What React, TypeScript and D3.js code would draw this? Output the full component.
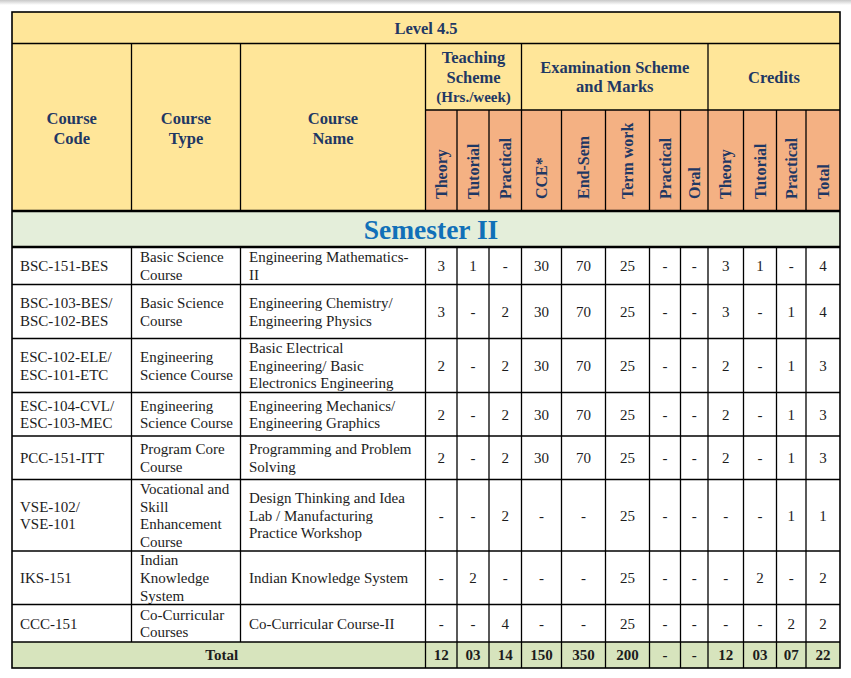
import React, { useEffect, useRef } from 'react';
import * as d3 from 'd3';

// ---- table content ----
const levelTitle = 'Level 4.5';
const semesterTitle = 'Semester II';
const fixedHeaders = [['Course', 'Code'], ['Course', 'Type'], ['Course', 'Name']];
const groupHeaders = [
  { lines: ['Teaching', 'Scheme', '(Hrs./week)'], from: 0, to: 3 },
  { lines: ['Examination Scheme', 'and Marks'], from: 3, to: 8 },
  { lines: ['Credits'], from: 8, to: 12 }
];
const subHeaders = ['Theory', 'Tutorial', 'Practical', 'CCE*', 'End-Sem', 'Term work', 'Practical', 'Oral', 'Theory', 'Tutorial', 'Practical', 'Total'];

const courseCodes = [['BSC-151-BES'], ['BSC-103-BES/', 'BSC-102-BES'], ['ESC-102-ELE/', 'ESC-101-ETC'], ['ESC-104-CVL/', 'ESC-103-MEC'], ['PCC-151-ITT'], ['VSE-102/', 'VSE-101'], ['IKS-151'], ['CCC-151']];
const courseTypes = [['Basic Science', 'Course'], ['Basic Science', 'Course'], ['Engineering', 'Science Course'], ['Engineering', 'Science Course'], ['Program Core', 'Course'], ['Vocational and', 'Skill', 'Enhancement', 'Course'], ['Indian', 'Knowledge', 'System'], ['Co-Curricular', 'Courses']];
const courseNames = [['Engineering Mathematics-', 'II'], ['Engineering Chemistry/', 'Engineering Physics'], ['Basic Electrical', 'Engineering/ Basic', 'Electronics Engineering'], ['Engineering Mechanics/', 'Engineering Graphics'], ['Programming and Problem', 'Solving'], ['Design Thinking and Idea', 'Lab / Manufacturing', 'Practice Workshop'], ['Indian Knowledge System'], ['Co-Curricular Course-II']];

const teachTheory = ['3', '3', '2', '2', '2', '-', '-', '-'];
const teachTutorial = ['1', '-', '-', '-', '-', '-', '2', '-'];
const teachPractical = ['-', '2', '2', '2', '2', '2', '-', '4'];
const cce = ['30', '30', '30', '30', '30', '-', '-', '-'];
const endSem = ['70', '70', '70', '70', '70', '-', '-', '-'];
const termWork = ['25', '25', '25', '25', '25', '25', '25', '25'];
const examPractical = ['-', '-', '-', '-', '-', '-', '-', '-'];
const oral = ['-', '-', '-', '-', '-', '-', '-', '-'];
const credTheory = ['3', '3', '2', '2', '2', '-', '-', '-'];
const credTutorial = ['1', '-', '-', '-', '-', '-', '2', '-'];
const credPractical = ['-', '1', '1', '1', '1', '1', '-', '2'];
const credTotal = ['4', '4', '3', '3', '3', '1', '2', '2'];
const totals = ['12', '03', '14', '150', '350', '200', '-', '-', '12', '03', '07', '22'];

const numericColumns = [teachTheory, teachTutorial, teachPractical, cce, endSem, termWork, examPractical, oral, credTheory, credTutorial, credPractical, credTotal];

// ---- layout ----
const colEdges = [12, 131.5, 240.5, 425.5, 457, 489, 521.5, 561.5, 605.5, 649.5, 680.5, 708, 743.5, 776.5, 806, 840];
const headTop = 12, levelBottom = 43.5, groupBottom = 110, headBottom = 211, semBottom = 247;
const rowEdges = [247, 284.5, 338.5, 392.5, 436, 479.5, 551, 604.5, 642];
const tableBottom = 668;

const YELLOW = '#FFE699';
const SALMON = '#F4B183';
const SEM_GREEN = '#E4EEDA';
const TOTAL_GREEN = '#D7E4BD';
const NAVY = '#1F3864';
const SERIF = '"Liberation Serif", "Times New Roman", serif';

const App = () => {
  const svgRef = useRef<SVGSVGElement>(null);

  useEffect(() => {
    const svg = d3.select(svgRef.current);
    svg.selectAll('*').remove();

    const left = colEdges[0], right = colEdges[colEdges.length - 1];
    const numEdges = colEdges.slice(3);
    const lineH = 17.7;

    // top page shadow
    const grad = svg.append('defs').append('linearGradient')
      .attr('id', 'shadow').attr('x1', 0).attr('y1', 0).attr('x2', 0).attr('y2', 1);
    grad.append('stop').attr('offset', 0).attr('stop-color', '#c8c8c8');
    grad.append('stop').attr('offset', 1).attr('stop-color', '#ffffff');
    svg.append('rect').attr('x', 0).attr('y', 0).attr('width', 851).attr('height', 5).attr('fill', 'url(#shadow)');

    // backgrounds
    svg.append('rect').attr('x', left).attr('y', headTop).attr('width', right - left).attr('height', groupBottom - headTop).attr('fill', YELLOW);
    svg.append('rect').attr('x', left).attr('y', groupBottom).attr('width', colEdges[3] - left).attr('height', headBottom - groupBottom).attr('fill', YELLOW);
    svg.append('rect').attr('x', colEdges[3]).attr('y', groupBottom).attr('width', right - colEdges[3]).attr('height', headBottom - groupBottom).attr('fill', SALMON);
    svg.append('rect').attr('x', left).attr('y', headBottom).attr('width', right - left).attr('height', semBottom - headBottom).attr('fill', SEM_GREEN);
    const lastRow = rowEdges[rowEdges.length - 1];
    svg.append('rect').attr('x', left).attr('y', lastRow).attr('width', right - left).attr('height', tableBottom - lastRow).attr('fill', TOTAL_GREEN);

    const g = svg.append('g').attr('font-family', SERIF);

    const multi = (x: number, cy: number, lines: string[], opts: any) => {
      const t = g.append('text')
        .attr('x', x)
        .attr('text-anchor', opts.anchor || 'middle')
        .attr('font-size', opts.size)
        .attr('font-weight', opts.weight || 'normal')
        .attr('fill', opts.color);
      lines.forEach((ln, i) => {
        t.append('tspan')
          .attr('x', x)
          .attr('y', cy + (i - (lines.length - 1) / 2) * opts.lh)
          .attr('dy', '0.35em')
          .text(ln);
      });
    };

    // header texts
    multi((left + right) / 2, (headTop + levelBottom) / 2, [levelTitle], { size: 16.5, weight: 'bold', color: NAVY, lh: 20 });
    fixedHeaders.forEach((lines, i) => {
      multi((colEdges[i] + colEdges[i + 1]) / 2, 128, lines, { size: 16.5, weight: 'bold', color: NAVY, lh: 20 });
    });
    groupHeaders.forEach(gh => {
      const cx = (numEdges[gh.from] + numEdges[gh.to]) / 2;
      const cy = (levelBottom + groupBottom) / 2;
      const t = g.append('text').attr('text-anchor', 'middle').attr('font-weight', 'bold').attr('fill', NAVY);
      gh.lines.forEach((ln, i) => {
        t.append('tspan')
          .attr('x', cx)
          .attr('y', cy + (i - (gh.lines.length - 1) / 2) * 19.5)
          .attr('dy', '0.35em')
          .attr('font-size', ln.startsWith('(') ? 15 : 16.5)
          .text(ln);
      });
    });
    subHeaders.forEach((s, i) => {
      const cx = (numEdges[i] + numEdges[i + 1]) / 2;
      g.append('text')
        .attr('transform', `translate(${cx + 5.5},${headBottom - 12}) rotate(-90)`)
        .attr('font-size', 16)
        .attr('font-weight', 'bold')
        .attr('fill', NAVY)
        .text(s);
    });

    // semester title
    g.append('text')
      .attr('x', (left + right) / 2 + 5)
      .attr('y', (headBottom + semBottom) / 2)
      .attr('dy', '0.35em')
      .attr('text-anchor', 'middle')
      .attr('font-size', 27.5)
      .attr('font-weight', 'bold')
      .attr('fill', '#1170B8')
      .text(semesterTitle);

    // body rows
    const dataColor = '#1c1c1c';
    courseCodes.forEach((code, r) => {
      const cy = (rowEdges[r] + rowEdges[r + 1]) / 2;
      multi(colEdges[0] + 8, cy, code, { size: 15, color: dataColor, lh: lineH, anchor: 'start' });
      multi(colEdges[1] + 8.5, cy, courseTypes[r], { size: 15, color: dataColor, lh: lineH, anchor: 'start' });
      multi(colEdges[2] + 8.5, cy, courseNames[r], { size: 15, color: dataColor, lh: lineH, anchor: 'start' });
      numericColumns.forEach((col, c) => {
        multi((numEdges[c] + numEdges[c + 1]) / 2, cy, [col[r]], { size: 15, color: dataColor, lh: lineH });
      });
    });

    // total row
    const tcy = (lastRow + tableBottom) / 2;
    multi((left + colEdges[3]) / 2 + 3, tcy, ['Total'], { size: 15, weight: 'bold', color: dataColor, lh: lineH });
    totals.forEach((v, c) => {
      multi((numEdges[c] + numEdges[c + 1]) / 2, tcy, [v], { size: 15, weight: 'bold', color: dataColor, lh: lineH });
    });

    // grid lines
    const lines = svg.append('g').attr('stroke', '#000').attr('fill', 'none');
    const hl = (y: number, x1: number, x2: number, w: number) =>
      lines.append('line').attr('x1', x1).attr('x2', x2).attr('y1', y).attr('y2', y).attr('stroke-width', w);
    const vl = (x: number, y1: number, y2: number, w: number) =>
      lines.append('line').attr('x1', x).attr('x2', x).attr('y1', y1).attr('y2', y2).attr('stroke-width', w);

    hl(levelBottom, left, right, 1.3);
    hl(groupBottom, colEdges[3], right, 1.3);
    hl(headBottom, left, right, 2.6);
    hl(semBottom, left, right, 2.6);
    rowEdges.slice(1).forEach(y => hl(y, left, right, 1.3));

    // header verticals
    [1, 2, 3].forEach(i => vl(colEdges[i], levelBottom, headBottom, 1.3));
    groupHeaders.forEach(gh => { if (gh.from > 0) vl(numEdges[gh.from], levelBottom, groupBottom, 1.3); });
    numEdges.slice(1, -1).forEach(x => vl(x, groupBottom, headBottom, 1.3));
    // body verticals
    colEdges.slice(1, -1).forEach(x => vl(x, semBottom, lastRow, 1.3));
    numEdges.slice(0, -1).forEach(x => vl(x, lastRow, tableBottom, 1.3));

    lines.append('rect')
      .attr('x', left).attr('y', headTop)
      .attr('width', right - left).attr('height', tableBottom - headTop)
      .attr('stroke-width', 1.6);
  }, []);

  return (
    <div style={{ position: 'absolute', left: 0, top: 0 }}>
      <svg ref={svgRef} width="851" height="678" style={{ display: 'block', background: '#fff' }}></svg>
    </div>
  );
};

export default App;
